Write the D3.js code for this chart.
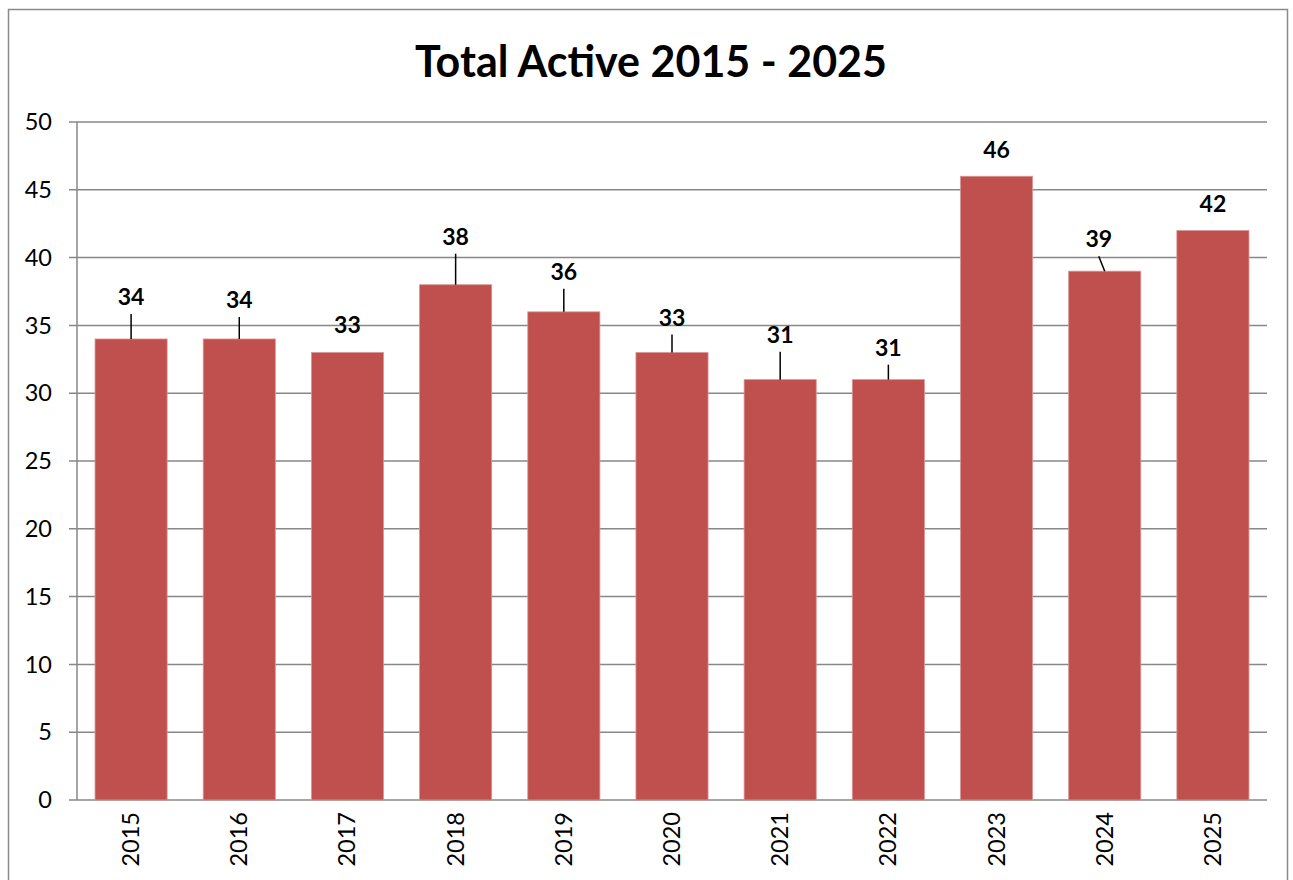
<!DOCTYPE html>
<html>
<head>
<meta charset="utf-8">
<title>Total Active 2015 - 2025</title>
<script src="https://d3js.org/d3.v7.min.js"></script>
<style>
  body { margin: 0; background: #fff; }
  text { font-family: Lato, "Open Sans", sans-serif; }
</style>
</head>
<body>
<div id="chart"></div>
<script>
// data
const years = ["2015","2016","2017","2018","2019","2020","2021","2022","2023","2024","2025"];
const active = [34, 34, 33, 38, 36, 33, 31, 31, 46, 39, 42];
const yTicks = [0, 5, 10, 15, 20, 25, 30, 35, 40, 45, 50];

// how far each value label sits above its bar (px) and sideways nudge
const labelLift = [34, 31, 20, 40, 32, 27, 37, 24, 18, 24, 18];
const labelShift = [0, 0, 0, 0, 0, 0, 0, 0, 0, -6, 0];

const W = 1293, H = 880;
const margin = { top: 122, right: 26, bottom: 80, left: 77 };
const width = W - margin.left - margin.right,
      height = H - margin.top - margin.bottom;

const svgRoot = d3.select("#chart").append("svg")
  .attr("width", W).attr("height", H);

// outer frame
svgRoot.append("rect")
  .attr("x", 8.5).attr("y", 9.5).attr("width", 1279).attr("height", 900)
  .attr("fill", "none").attr("stroke", "#8a8a8a").attr("stroke-width", 1.5);

svgRoot.append("text")
  .attr("x", 651).attr("y", 77)
  .attr("text-anchor", "middle")
  .style("font-size", "43px").style("font-weight", "bold")
  .text("Total Active 2015 - 2025");

const svg = svgRoot.append("g")
  .attr("transform", `translate(${margin.left},${margin.top})`);

const x = d3.scaleBand()
  .domain(years)
  .range([0, width])
  .paddingInner(1 / 3)
  .paddingOuter(1 / 6);

const y = d3.scaleLinear()
  .domain([0, 50])
  .range([height, 0]);

// gridlines
svg.append("g")
  .selectAll("line")
  .data(yTicks)
  .join("line")
  .attr("x1", -8).attr("x2", width)
  .attr("y1", d => y(d)).attr("y2", d => y(d))
  .attr("stroke", "#878787").attr("stroke-width", 1.5);

// y axis line
svg.append("line")
  .attr("x1", 0).attr("x2", 0).attr("y1", 0).attr("y2", height)
  .attr("stroke", "#878787").attr("stroke-width", 1.5);

// y tick labels
svg.append("g")
  .selectAll("text")
  .data(yTicks)
  .join("text")
  .attr("x", -25)
  .attr("y", d => y(d))
  .attr("dy", "0.35em")
  .attr("text-anchor", "end")
  .style("font-size", "23.5px")
  .text(d => d);

// bars
svg.selectAll("rect.bar")
  .data(active)
  .join("rect")
  .attr("class", "bar")
  .attr("x", (d, i) => x(years[i]))
  .attr("y", d => y(d))
  .attr("width", x.bandwidth())
  .attr("height", d => height - y(d))
  .attr("fill", "#C0504D")
  .attr("stroke", "#d99694").attr("stroke-width", 0.8);

// x labels, rotated
svg.append("g")
  .selectAll("text")
  .data(years)
  .join("text")
  .attr("transform", d => `translate(${x(d) + x.bandwidth() / 2 + 8},${height + 12}) rotate(-90)`)
  .attr("text-anchor", "end")
  .style("font-size", "23.5px")
  .text(d => d);

// value labels with leader lines
active.forEach((v, i) => {
  const cx = x(years[i]) + x.bandwidth() / 2;
  const top = y(v);
  const lx = cx + labelShift[i];
  const base = top - labelLift[i];
  if (top - (base + 9) > 11) {
    svg.append("line")
      .attr("x1", lx).attr("y1", base + 9)
      .attr("x2", cx).attr("y2", top)
      .attr("stroke", "#000").attr("stroke-width", 1.5);
  }
  svg.append("text")
    .attr("x", lx).attr("y", base)
    .attr("text-anchor", "middle")
    .style("font-size", "23px").style("font-weight", "bold")
    .text(v);
});
</script>
</body>
</html>
